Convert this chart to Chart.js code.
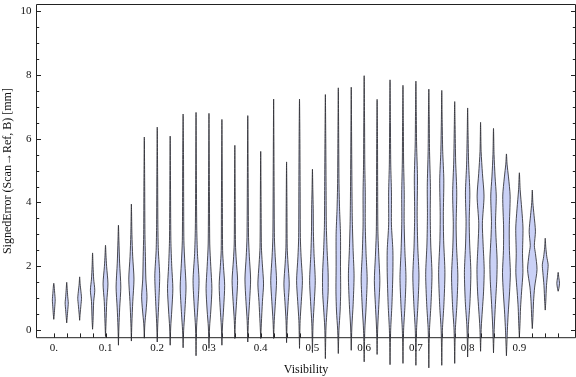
<!DOCTYPE html>
<html><head><meta charset="utf-8">
<script src="https://cdn.jsdelivr.net/npm/chart.js@4.4.0/dist/chart.umd.min.js"></script>
<style>html,body{margin:0;padding:0;background:#fff}#wrap{width:576px;height:377px}</style>
</head><body><div id="wrap"><canvas id="c" width="576" height="377"></canvas></div>
<script>
// Violin categories (Visibility) and summary of each distribution
const visibility = [0,0.025,0.05,0.075,0.1,0.125,0.15,0.175,0.2,0.225,0.25,0.275,0.3,0.325,0.35,0.375,0.4,0.425,0.45,0.475,0.5,0.525,0.55,0.575,0.6,0.625,0.65,0.675,0.7,0.725,0.75,0.775,0.8,0.825,0.85,0.875,0.9,0.925,0.95,0.975];
const errMin = [0.34,0.23,0.31,0.03,-0.2,-0.47,-0.34,-0.25,-0.37,-0.47,-0.55,-0.8,-0.57,-0.47,-0.26,-0.37,-0.26,-0.26,-0.39,-0.57,-0.7,-0.89,-0.73,-0.63,-0.99,-0.76,-1.08,-1.04,-1.1,-1.18,-1.1,-1.04,-0.84,-0.66,-0.71,-0.8,-0.22,0.05,0.63,1.22];
const errMax = [1.47,1.5,1.67,2.42,2.66,3.29,3.95,6.05,6.36,6.08,6.77,6.82,6.79,6.6,5.79,6.72,5.6,7.24,5.27,7.24,5.04,7.38,7.59,7.61,7.97,7.23,7.84,7.67,7.8,7.55,7.51,7.16,6.96,6.51,6.32,5.52,4.93,4.39,2.88,1.81];
// Density profile knots per violin: [SignedError, relative density]
const densityProfile = [
 [[0.5,0.6],[0.75,1.3],[0.95,1.8],[1.15,1.2],[1.35,0.6]],
 [[0.4,0.6],[0.65,1.4],[0.85,2.0],[1.05,1.3],[1.3,0.6]],
 [[0.5,0.6],[0.8,1.7],[1.0,2.4],[1.2,1.7],[1.45,0.6]],
 [[0.3,0.6],[0.9,1.4],[1.25,2.8],[1.6,1.4],[2.0,0.6]],
 [[0.2,0.6],[0.9,1.6],[1.45,3.1],[2.0,1.4],[2.35,0.6]],
 [[0.1,0.6],[0.7,1.6],[1.35,3.0],[2.1,1.5],[2.8,0.6]],
 [[0.2,0.6],[0.9,1.8],[1.6,3.3],[2.3,1.7],[3.0,0.7]],
 [[0.2,0.7],[0.6,2.2],[1.05,3.4],[1.6,2.0],[2.3,1.4],[3.0,0.8],[4.5,0.5]],
 [[0.2,0.7],[0.9,2.0],[1.7,3.1],[2.5,1.4],[3.3,0.8],[4.8,0.5]],
 [[0.1,0.7],[0.6,2.0],[1.3,3.4],[2.0,2.0],[2.8,0.9],[4.2,0.5]],
 [[0.0,0.7],[0.5,2.0],[1.35,3.7],[2.1,2.2],[2.8,1.0],[4.0,0.7],[5.5,0.5]],
 [[0.1,0.7],[0.7,2.2],[1.55,3.8],[2.4,1.8],[3.2,0.9],[4.6,0.5]],
 [[0.1,0.8],[0.6,2.3],[1.3,3.7],[2.0,2.3],[2.7,1.0],[4.2,0.6]],
 [[0.1,0.7],[0.7,2.2],[1.4,3.5],[2.0,2.0],[2.5,0.9],[4.0,0.6]],
 [[0.3,0.7],[0.9,2.2],[1.55,3.5],[2.2,1.8],[2.7,0.8],[4.0,0.5]],
 [[0.3,0.8],[0.9,2.3],[1.6,3.6],[2.3,2.0],[2.9,1.0],[4.3,0.6]],
 [[0.2,0.8],[0.9,2.2],[1.45,3.6],[2.1,2.0],[2.6,0.9],[4.0,0.5]],
 [[0.3,0.8],[0.9,2.3],[1.55,3.7],[2.3,2.0],[2.9,1.0],[4.5,0.6]],
 [[0.3,0.7],[0.9,2.1],[1.45,3.4],[2.1,1.8],[2.6,0.8],[3.8,0.5]],
 [[0.3,0.8],[0.9,2.3],[1.55,3.7],[2.3,2.0],[2.9,1.1],[4.5,0.8],[6.0,0.5]],
 [[0.2,0.8],[0.9,2.4],[1.55,3.6],[2.4,2.0],[3.1,1.2],[3.8,1.0],[4.4,0.5]],
 [[0.1,0.8],[0.7,2.3],[1.2,3.5],[1.8,3.5],[2.5,2.2],[3.3,1.2],[4.5,0.9],[6.0,0.5]],
 [[0.0,0.8],[0.6,2.3],[1.2,3.0],[2.0,2.8],[3.0,2.8],[3.8,1.6],[4.6,0.9],[6.0,0.5]],
 [[0.1,0.8],[0.8,2.4],[1.7,3.6],[2.5,2.4],[3.4,1.4],[4.2,1.0],[5.5,0.6]],
 [[0.0,0.8],[0.7,2.4],[1.6,3.8],[2.4,2.4],[3.3,1.4],[4.3,1.4],[5.2,0.8],[6.5,0.5]],
 [[0.1,0.8],[0.8,2.2],[1.55,3.5],[2.3,2.2],[3.1,1.0],[4.5,0.7],[6.0,0.5]],
 [[0.0,0.8],[0.8,2.4],[1.8,3.6],[2.5,3.6],[3.3,1.8],[4.3,1.8],[5.2,0.9],[6.5,0.5]],
 [[0.0,0.8],[0.8,2.6],[1.65,3.8],[2.5,2.4],[3.4,1.5],[4.3,1.6],[5.3,0.8],[6.5,0.5]],
 [[0.0,0.8],[0.8,2.6],[1.7,3.9],[2.6,2.4],[3.6,1.6],[4.8,2.0],[5.8,0.9],[6.8,0.5]],
 [[0.0,0.8],[0.8,2.7],[1.75,4.0],[2.7,2.4],[3.6,1.8],[4.5,2.0],[5.6,0.9],[6.7,0.5]],
 [[0.0,0.8],[0.8,2.7],[1.8,4.0],[2.8,2.4],[3.6,2.0],[4.7,2.6],[5.6,1.2],[6.6,0.5]],
 [[0.0,0.8],[0.8,2.8],[1.7,4.0],[2.6,2.4],[3.3,1.8],[4.3,2.6],[5.3,1.2],[6.4,0.5]],
 [[0.1,0.9],[0.9,3.0],[1.8,4.1],[2.7,2.6],[3.4,2.0],[4.3,2.8],[5.2,1.3],[6.2,0.5]],
 [[0.1,0.9],[0.6,2.2],[1.2,3.8],[1.9,4.6],[2.7,3.2],[3.35,2.3],[4.2,4.4],[4.9,2.4],[5.6,0.7]],
 [[0.1,1.0],[0.8,2.4],[1.6,4.2],[2.2,4.6],[2.9,3.2],[3.4,2.6],[4.2,3.5],[4.8,2.0],[5.5,0.7]],
 [[0.0,1.2],[0.5,2.2],[1.2,4.0],[1.8,5.0],[2.5,3.8],[3.2,3.6],[4.2,4.7],[4.8,2.6],[5.2,0.8]],
 [[0.2,0.8],[0.7,1.5],[1.2,2.8],[1.8,4.5],[2.4,4.0],[3.2,4.6],[3.8,3.0],[4.4,1.0]],
 [[0.4,0.8],[0.9,1.6],[1.35,3.0],[1.9,6.0],[2.4,4.0],[2.65,2.6],[3.1,4.0],[3.6,2.2],[4.0,0.7]],
 [[0.9,0.7],[1.4,1.6],[1.8,3.0],[2.05,3.7],[2.3,2.0],[2.6,0.7]],
 [[1.3,0.8],[1.47,1.7],[1.65,0.8]]
];
const xTickValues = [0,0.1,0.2,0.3,0.4,0.5,0.6,0.7,0.8,0.9];
const xTickLabels = ['0.','0.1','0.2','0.3','0.4','0.5','0.6','0.7','0.8','0.9'];
const yTickValues = [0,2,4,6,8,10];
const yTickLabels = ['0','2','4','6','8','10'];

const DENSITY_TO_X = 0.00152;   // relative density -> half width in Visibility units

function outline(i){
  const v = visibility[i], k = densityProfile[i];
  const pts = [{x:v, y:errMin[i]}];
  k.forEach(([y,w]) => pts.push({x:v + w*DENSITY_TO_X, y}));
  pts.push({x:v, y:errMax[i]});
  for (let j=k.length-1; j>=0; j--) pts.push({x:v - k[j][1]*DENSITY_TO_X, y:k[j][0]});
  pts.push({x:v, y:errMin[i]});
  return pts;
}

const datasets = visibility.map((v,i) => ({
  data: outline(i),
  showLine: true,
  fill: 'shape',
  backgroundColor: 'rgb(202,209,246)',
  borderColor: 'rgba(45,45,50,0.85)',
  borderWidth: 1,
  tension: 0.25,
  pointRadius: 0,
  pointHoverRadius: 0,
  clip: false
}));

const frameTicks = {
  id: 'frameTicks',
  beforeDatasetsDraw(chart){
    const {ctx, chartArea:a, scales:{x, y}} = chart;
    ctx.save();
    ctx.strokeStyle = '#222';
    ctx.lineWidth = 1;
    ctx.beginPath();
    ctx.rect(a.left, a.top, a.right - a.left, a.bottom - a.top);
    ctx.stroke();
    ctx.beginPath();
    for (let t = 0; t <= 10.001; t += 0.5) {
      const py = Math.round(y.getPixelForValue(t)) + 0.5;
      const len = yTickValues.includes(Math.round(t*10)/10) ? 4.5 : 2.7;
      ctx.moveTo(a.left, py); ctx.lineTo(a.left + len, py);
      ctx.moveTo(a.right, py); ctx.lineTo(a.right - len, py);
    }
    visibility.forEach(v => {
      const px = Math.round(x.getPixelForValue(v)) + 0.5;
      ctx.moveTo(px, a.bottom); ctx.lineTo(px, a.bottom - 4.3);
    });
    ctx.stroke();
    ctx.restore();
  }
};

const noPad = s => { s.paddingTop = 0; s.paddingBottom = 0; s.paddingLeft = 0; s.paddingRight = 0; };

new Chart(document.getElementById('c'), {
  type: 'scatter',
  data: { datasets },
  options: {
    responsive: false,
    animation: false,
    events: [],
    layout: { padding: { top: 4.5, right: 0.5, left: 0, bottom: 0 } },
    elements: { line: { capBezierPoints: false } },
    plugins: { legend: { display: false }, tooltip: { enabled: false } },
    scales: {
      x: {
        type: 'linear', min: -0.0334, max: 1.0085,
        grid: { display: false, drawTicks: false, tickLength: 0 },
        border: { display: false },
        afterBuildTicks: s => { s.ticks = xTickValues.map(v => ({value: v})); },
        afterFit: s => { s.height = 39.3; noPad(s); },
        ticks: { autoSkip: false, maxRotation: 0, padding: 4, color: '#111',
                 font: { family: 'Liberation Serif', size: 11 },
                 callback: (val, idx) => xTickLabels[idx] },
        title: { display: true, text: 'Visibility', color: '#111',
                 font: { family: 'Liberation Serif', size: 12 }, padding: { top: 0, bottom: 0 } }
      },
      y: {
        type: 'linear', min: -0.235, max: 10.2,
        grid: { display: false, drawTicks: false, tickLength: 0 },
        border: { display: false },
        afterBuildTicks: s => { s.ticks = yTickValues.map(v => ({value: v})); },
        afterFit: s => { s.width = 36.5; noPad(s); },
        ticks: { autoSkip: false, padding: 5, color: '#111',
                 font: { family: 'Liberation Serif', size: 11 },
                 callback: (val, idx) => yTickLabels[idx] },
        title: { display: true, text: 'SignedError (Scan\u2192Ref, B) [mm]', color: '#111',
                 font: { family: 'Liberation Serif', size: 12 }, padding: { top: 0.8, bottom: 0 } }
      }
    }
  },
  plugins: [frameTicks]
});
</script>
</body></html>
